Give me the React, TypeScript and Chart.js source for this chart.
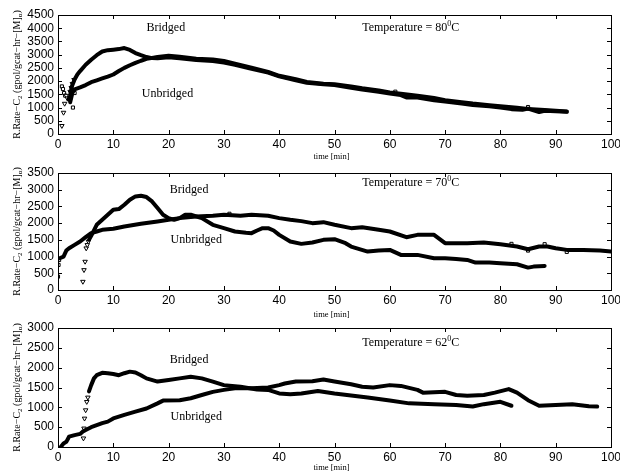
import React, { useEffect, useRef } from "react";
import { Chart, registerables } from "chart.js";

Chart.register(...registerables);

// ---------- data (time [min], rate) ----------
const xTicks = [0, 10, 20, 30, 40, 50, 60, 70, 80, 90, 100];

// 80 C
const bridged80: [number, number][] = [
  [1.9, 1300], [2.2, 1450], [2.5, 1800], [3, 2060], [3.5, 2250], [4, 2380], [5, 2620], [6, 2810], [7, 2980],
  [8, 3120], [9, 3170], [10, 3190], [11, 3210], [12, 3250], [13, 3180], [14, 3060], [15, 2980], [16, 2910],
  [17, 2870], [18, 2860], [20, 2900], [22, 2860], [25, 2800], [28, 2760], [30, 2700], [32, 2620], [35, 2470],
  [38, 2320], [40, 2180], [43, 2030], [45, 1940], [48, 1880], [50, 1850], [53, 1750], [55, 1680], [58, 1600],
  [60, 1530], [62, 1470], [63, 1380], [65, 1380], [68, 1280], [70, 1230], [73, 1150], [75, 1100], [78, 1050],
  [80, 1000], [82, 940], [84, 920], [85, 960], [87, 830], [88, 880], [90, 860], [92, 840],
];
const unbridged80: [number, number][] = [
  [2.2, 1200], [2.6, 1550], [3, 1690], [4, 1760], [5, 1850], [6, 1960], [7, 2030], [8, 2100], [9, 2170],
  [10, 2250], [11, 2380], [12, 2500], [13, 2600], [14, 2690], [15, 2770], [16, 2840], [18, 2910], [20, 2960],
  [22, 2920], [25, 2850], [28, 2820], [30, 2760], [32, 2660], [35, 2510], [38, 2350], [40, 2200], [43, 2070],
  [45, 1970], [48, 1900], [50, 1880], [53, 1800], [55, 1730], [58, 1650], [60, 1570], [62, 1520], [65, 1450],
  [68, 1360], [70, 1280], [73, 1200], [75, 1150], [78, 1090], [80, 1050], [83, 990], [85, 950], [88, 910],
  [90, 880], [92, 850],
];
const bridgedMarks80: [number, number][] = [
  [0.7, 310], [1.0, 810], [1.2, 1150], [1.5, 1450], [1.7, 1350], [2.2, 1600], [2.4, 1750], [2.6, 1900], [2.9, 2050],
];
const unbridgedMarks80: [number, number][] = [
  [0.7, 1800], [0.9, 1700], [1.1, 1550], [1.3, 1450], [2.7, 1000], [3.0, 1550], [61, 1600], [85, 1020],
];

// 70 C
const bridged70: [number, number][] = [
  [5.6, 1500], [6, 1620], [7, 1950], [8, 2100], [9, 2250], [10, 2400], [11, 2420], [12, 2550], [13, 2700],
  [14, 2800], [15, 2820], [16, 2780], [17, 2650], [18, 2450], [19, 2250], [20, 2150], [21, 2100], [22, 2150],
  [23, 2250], [24, 2250], [26, 2150], [28, 1950], [30, 1850], [32, 1750], [34, 1710], [35, 1700], [36, 1780],
  [37, 1850], [38, 1850], [39, 1780], [40, 1650], [42, 1450], [44, 1380], [46, 1420], [48, 1500], [50, 1520],
  [52, 1400], [53, 1300], [56, 1150], [58, 1180], [60, 1200], [62, 1050], [65, 1050], [68, 950], [70, 950],
  [72, 930], [74, 900], [75.5, 820], [78, 820], [80, 800], [83, 770], [85, 670], [86, 700], [88, 720],
];
const unbridged70: [number, number][] = [
  [0.3, 950], [1, 1000], [1.5, 1180], [2, 1250], [3, 1350], [4, 1450], [5, 1580], [6, 1700], [7, 1750],
  [8, 1800], [10, 1830], [12, 1900], [15, 1980], [18, 2050], [20, 2100], [22, 2150], [25, 2200], [28, 2220],
  [30, 2250], [33, 2220], [35, 2250], [38, 2220], [40, 2150], [42, 2100], [44, 2060], [46, 2000], [48, 2030],
  [50, 1950], [53, 1850], [55, 1880], [58, 1800], [60, 1750], [63, 1580], [65, 1650], [68, 1650], [70, 1400],
  [74, 1400], [77, 1420], [80, 1370], [83, 1300], [85, 1220], [87, 1300], [88.5, 1300], [90, 1250],
  [92, 1200], [95, 1200], [98, 1180], [100, 1150],
];
const bridgedMarks70: [number, number][] = [
  [4.5, 250], [4.7, 600], [4.9, 850], [5.1, 1250], [5.3, 1350], [5.5, 1450],
];
const unbridgedMarks70: [number, number][] = [
  [0, 400], [0.1, 750], [0.2, 900], [31, 2280], [82, 1380], [85, 1180], [88, 1370], [92, 1140],
];

// 62 C
const bridged62: [number, number][] = [
  [5.6, 1400], [6, 1560], [6.5, 1730], [7, 1810], [8, 1870], [9, 1860], [10, 1840], [11, 1810], [12, 1860],
  [13, 1900], [14, 1880], [15, 1810], [16, 1730], [18, 1650], [20, 1690], [22, 1730], [24, 1770], [26, 1730],
  [28, 1650], [30, 1560], [33, 1520], [36, 1450], [38, 1440], [40, 1350], [42, 1330], [44, 1350], [47, 1410],
  [50, 1350], [53, 1300], [56, 1250], [60, 1170], [63.5, 1100], [68, 1080], [72, 1060], [75, 1020], [77, 1080],
  [80, 1140], [82, 1040],
];
const unbridged62: [number, number][] = [
  [0.5, 0], [1, 90], [1.5, 130], [2, 260], [3, 300], [4, 330], [4.5, 390], [5, 430], [6, 500], [7, 550],
  [8, 600], [9, 640], [10, 720], [12, 810], [14, 890], [16, 970], [18, 1100], [19, 1170], [22, 1180],
  [24, 1230], [26, 1310], [28, 1390], [30, 1440], [32, 1480], [35, 1480], [38, 1500], [40, 1560], [41, 1600],
  [43, 1650], [46, 1660], [48, 1700], [50, 1650], [53, 1580], [55, 1520], [57, 1500], [60, 1560], [62, 1540],
  [65, 1440], [66, 1370], [70, 1390], [72, 1310], [74, 1290], [77, 1310], [79, 1370], [81.5, 1460], [83, 1370],
  [85, 1180], [87, 1040], [90, 1060], [93, 1080], [96, 1030], [97.5, 1020],
];
const bridgedMarks62: [number, number][] = [
  [4.6, 220], [4.7, 470], [4.8, 720], [5.0, 930], [5.2, 1140], [5.4, 1250],
];
const unbridgedMarks62: [number, number][] = [];

// ---------- panel settings ----------
type Panel = {
  top: number; height: number; padTop: number; axisH: number; yMax: number; temp: string;
  bridged: [number, number][]; unbridged: [number, number][];
  bMarks: [number, number][]; uMarks: [number, number][];
  bLabel: [number, number]; uLabel: [number, number]; tLabel: [number, number]; timeOff: number;
};

const panels: Panel[] = [
  { top: 0, height: 160, padTop: 15, axisH: 26, yMax: 4500, temp: "80",
    bridged: bridged80, unbridged: unbridged80, bMarks: bridgedMarks80, uMarks: unbridgedMarks80,
    bLabel: [19.5, 4000], uLabel: [19.8, 1500], tLabel: [55, 4000], timeOff: 23 },
  { top: 160, height: 160, padTop: 13, axisH: 30, yMax: 3500, temp: "70",
    bridged: bridged70, unbridged: unbridged70, bMarks: bridgedMarks70, uMarks: unbridgedMarks70,
    bLabel: [23.7, 2990], uLabel: [25, 1500], tLabel: [55, 3200], timeOff: 25 },
  { top: 320, height: 154, padTop: 8, axisH: 27, yMax: 3000, temp: "62",
    bridged: bridged62, unbridged: unbridged62, bMarks: bridgedMarks62, uMarks: unbridgedMarks62,
    bLabel: [23.7, 2190], uLabel: [25, 760], tLabel: [55, 2620], timeOff: 21 },
];

const SERIF = '"Liberation Serif", "Times New Roman", serif';
const SANS = 'Arial, "Liberation Sans", Helvetica, sans-serif';

const toXY = (a: [number, number][]) => a.map(([x, y]) => ({ x, y }));

const decorPlugin = {
  id: "decor",
  afterDraw(chart: any, _args: any, opts: any) {
    const { ctx, chartArea: a, scales } = chart;
    const xs = scales.x, ys = scales.y;
    ctx.save();
    ctx.strokeStyle = "#000";
    ctx.lineWidth = 1;
    ctx.strokeRect(Math.round(a.left) + 0.5, Math.round(a.top) + 0.5,
      Math.round(a.right - a.left), Math.round(a.bottom - a.top));
    const TL = 4;
    ctx.beginPath();
    xs.ticks.forEach((t: any) => {
      if (t.value <= xs.min || t.value >= xs.max) return;
      const px = Math.round(xs.getPixelForValue(t.value)) + 0.5;
      ctx.moveTo(px, a.bottom); ctx.lineTo(px, a.bottom - TL);
      ctx.moveTo(px, a.top); ctx.lineTo(px, a.top + TL);
    });
    ys.ticks.forEach((t: any) => {
      if (t.value <= ys.min || t.value >= ys.max) return;
      const py = Math.round(ys.getPixelForValue(t.value)) + 0.5;
      ctx.moveTo(a.left, py); ctx.lineTo(a.left + TL, py);
      ctx.moveTo(a.right, py); ctx.lineTo(a.right - TL, py);
    });
    ctx.stroke();

    ctx.fillStyle = "#000";
    ctx.textBaseline = "middle";
    // annotations
    ctx.font = `12px ${SERIF}`;
    ctx.textAlign = "center";
    ctx.fillText("Bridged", xs.getPixelForValue(opts.bLabel[0]), ys.getPixelForValue(opts.bLabel[1]));
    ctx.fillText("Unbridged", xs.getPixelForValue(opts.uLabel[0]), ys.getPixelForValue(opts.uLabel[1]));
    // temperature with superscript
    ctx.textAlign = "left";
    let tx = xs.getPixelForValue(opts.tLabel[0]);
    const ty = ys.getPixelForValue(opts.tLabel[1]);
    const main = "Temperature = " + opts.temp;
    ctx.fillText(main, tx, ty);
    tx += ctx.measureText(main).width;
    ctx.font = `8px ${SERIF}`;
    ctx.fillText("0", tx, ty - 4);
    tx += ctx.measureText("0").width;
    ctx.font = `12px ${SERIF}`;
    ctx.fillText("C", tx, ty);

    // x axis title
    ctx.font = `8.5px ${SERIF}`;
    ctx.textAlign = "center";
    ctx.fillText("time [min]", (a.left + a.right) / 2 - 3, a.bottom + opts.timeOff);

    // y axis title (rotated, with subscripts)
    const segs: [string, number][] = [
      ["R.Rate\u2212C", 0], ["2", 1], [" (gpol/gcat\u2212hr\u2212[M]", 0], ["\u03b1", 1], [")", 0],
    ];
    const fNorm = `10px ${SERIF}`, fSub = `7px ${SERIF}`;
    let total = 0;
    segs.forEach(([s, sub]) => { ctx.font = sub ? fSub : fNorm; total += ctx.measureText(s).width; });
    ctx.translate(17, (a.top + a.bottom) / 2);
    ctx.rotate(-Math.PI / 2);
    ctx.textAlign = "left";
    let cx = -total / 2;
    segs.forEach(([s, sub]) => {
      ctx.font = sub ? fSub : fNorm;
      ctx.fillText(s, cx, sub ? 3 : 0);
      cx += ctx.measureText(s).width;
    });
    ctx.restore();
  },
};

function PanelChart({ p }: { p: Panel }) {
  const ref = useRef<HTMLCanvasElement>(null);
  useEffect(() => {
    if (!ref.current) return;
    const lineDs = (d: [number, number][]) => ({
      type: "line" as const,
      data: toXY(d),
      borderColor: "#000",
      borderWidth: 4,
      pointRadius: 0,
      tension: 0,
      fill: false,
      borderCapStyle: "round" as const,
      borderJoinStyle: "round" as const,
    });
    const chart = new Chart(ref.current, {
      type: "line",
      data: {
        datasets: [
          lineDs(p.bridged),
          lineDs(p.unbridged),
          {
            type: "scatter", data: toXY(p.bMarks), pointStyle: "triangle", rotation: 180,
            pointRadius: 2.6, borderColor: "#000", backgroundColor: "#fff", borderWidth: 1,
          } as any,
          {
            type: "scatter", data: toXY(p.uMarks), pointStyle: "rect",
            pointRadius: 2.2, borderColor: "#000", backgroundColor: "#fff", borderWidth: 1,
          } as any,
        ],
      },
      options: {
        animation: false,
        responsive: false,
        maintainAspectRatio: false,
        layout: { padding: { top: p.padTop, right: 9, left: 0, bottom: 0 } },
        plugins: {
          legend: { display: false },
          tooltip: { enabled: false },
          decor: { temp: p.temp, bLabel: p.bLabel, uLabel: p.uLabel, tLabel: p.tLabel, timeOff: p.timeOff },
        } as any,
        scales: {
          x: {
            type: "linear", min: 0, max: 100,
            afterBuildTicks: (s: any) => { s.ticks = xTicks.map((v) => ({ value: v })); },
            ticks: {
              color: "#000", font: { family: SANS, size: 12 }, padding: 3, maxRotation: 0, autoSkip: false,
              callback: (v: any) => String(v),
            },
            grid: { display: false, drawTicks: false, tickLength: 0 },
            border: { display: false },
            afterFit: (s: any) => { s.height = p.axisH; s.paddingLeft = 0; s.paddingRight = 0; },
          },
          y: {
            type: "linear", min: 0, max: p.yMax,
            ticks: {
              stepSize: 500, color: "#000", font: { family: SANS, size: 12 }, padding: 4, autoSkip: false,
              callback: (v: any) => String(v),
            },
            grid: { display: false, drawTicks: false, tickLength: 0 },
            border: { display: false },
            afterFit: (s: any) => { s.width = 58; s.paddingTop = 0; s.paddingBottom = 0; },
          },
        },
      },
      plugins: [decorPlugin],
    });
    return () => chart.destroy();
  }, [p]);
  return (
    <canvas
      ref={ref}
      width={620}
      height={p.height}
      style={{ position: "absolute", left: 0, top: p.top, width: 620, height: p.height, display: "block" }}
    />
  );
}

export default function App() {
  return (
    <div style={{ position: "absolute", left: 0, top: 0, width: 620, height: 474, background: "#fff", overflow: "hidden" }}>
      {panels.map((p, i) => (
        <PanelChart key={i} p={p} />
      ))}
    </div>
  );
}
